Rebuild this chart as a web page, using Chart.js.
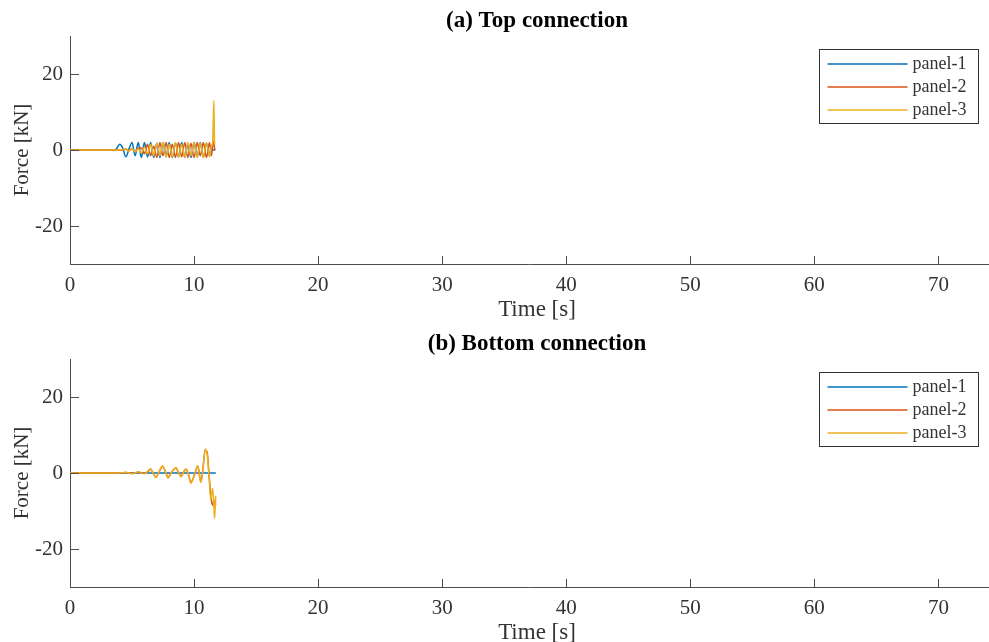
<!DOCTYPE html>
<html>
<head>
<meta charset="utf-8">
<script src="https://cdn.jsdelivr.net/npm/chart.js@4.4.0/dist/chart.umd.min.js"></script>
<style>
body { margin: 0; background: #fff; overflow: hidden; }
canvas { display: block; }
</style>
</head>
<body>
<canvas id="chartTop" width="989" height="323"></canvas>
<canvas id="chartBottom" width="989" height="323"></canvas>
<script>
const seriesNames = ["panel-1", "panel-2", "panel-3"];
const seriesColors = ["#0072BD", "#D95319", "#EDB120"];
const xTicks = [0, 10, 20, 30, 40, 50, 60, 70];
const yTicks = [-20, 0, 20];

// (a) top connection
const topTime = [0, 3.5, 3.75, 4, 4.25, 4.5, 4.75, 5, 5.25, 5.5, 5.75, 6, 6.25, 6.5, 6.75, 7, 7.25, 7.5, 7.75, 8,
    8.25, 8.5, 8.75, 9, 9.25, 9.5, 9.75, 10, 10.25, 10.5, 10.75, 11, 11.25, 11.4, 11.5, 11.55, 11.6, 11.65, 11.7];
const topPanel1 = [0, 0, 0.3, 1.5, 0.5, -1.8, 0.2, 2, -1.5, 2, -2, 2, -1.8, 2, -2, 1.8, -2, 2, -1.5, 2,
    -2, 1.9, -1.8, 2, -2, 1.5, -2, 2, -1.8, 2, -2, 1.8, -1.5, 1, 0, 0, 0, 0, 0];
const topPanel2 = [0, 0, 0, 0, 0, 0.2, -0.2, 0.3, -0.3, 0.5, 0.5, -1, 1.5, -1.5, 1, -2, 2, -1.5, 2, -2,
    1.5, -2, 2, -1.8, 2, -2, 1.8, -2, 2, -1.5, 2, -2, 2, -1.5, 1.5, 2.5, 2, 0.5, 0];
const topPanel3 = [0, 0, 0, 0, 0.1, 0.3, -0.3, 0.4, -0.4, 0.3, -0.8, 0.8, -1, 1.5, -1.5, 1.8, -1.5, 2, -2, 1.5,
    -1.8, 2, -2, 1.5, -2, 2, -1.5, 2, -2, 1.8, -2, 2, -1.8, 1, 2, 8, 13, 2, 1.5];

// (b) bottom connection
const botTime = [0, 4, 4.5, 5, 5.5, 6, 6.25, 6.5, 6.7, 6.9, 7.2, 7.45, 7.7, 7.9, 8.2, 8.55, 8.75, 8.95, 9.15, 9.35,
    9.55, 9.75, 10.05, 10.3, 10.55, 10.7, 10.9, 11.05, 11.2, 11.35, 11.5, 11.6, 11.65, 11.75];
const botPanel1 = [0, 0, 0, 0, 0, 0, 0, 0, 0, 0, 0, 0, 0, 0, 0, 0, 0, 0, 0, 0,
    0, 0, 0, 0, 0, 0, 0, 0, 0, 0, 0, 0, 0, 0];
const botPanel2 = [0, 0, 0.1, -0.1, 0.2, -0.1, 0.3, 1, 0, -1.1, 0.4, 1.8, 0.3, -1.2, 0.3, 1.3, 0.1, -0.9, 0.2, 1,
    -0.4, -2.5, -0.3, 1.8, -2.3, 0.6, 6, 5.5, 0, -6, -8.5, -7, -9, -8];
const botPanel3 = [0, 0, 0.2, -0.2, 0.3, -0.2, 0.4, 1.1, 0, -1.2, 0.5, 1.9, 0.3, -1.3, 0.3, 1.4, 0.2, -1, 0.2, 1.1,
    -0.5, -2.7, -0.3, 1.9, -2.5, 0.5, 6.3, 5, -0.5, -7, -4, -9, -12, -6];

const serif = "'Liberation Serif', 'DejaVu Serif', serif";
const textColor = "#333333";
const axisColor = "#4d4d4d";

// inward ticks, titles and legend box inside the axes
const axisMarks = {
    id: "axisMarks",
    afterDraw(chart) {
        const { ctx, chartArea, scales } = chart;
        const opts = chart.options.plugins.axisMarks;
        ctx.save();
        ctx.strokeStyle = axisColor;
        ctx.lineWidth = 1;
        ctx.beginPath();
        scales.x.ticks.forEach((t) => {
            const px = Math.round(scales.x.getPixelForValue(t.value)) + 0.5;
            ctx.moveTo(px, chartArea.bottom);
            ctx.lineTo(px, chartArea.bottom - 8);
        });
        scales.y.ticks.forEach((t) => {
            const py = Math.round(scales.y.getPixelForValue(t.value)) + 0.5;
            ctx.moveTo(chartArea.left, py);
            ctx.lineTo(chartArea.left + 9, py);
        });
        ctx.stroke();

        // titles, centred a little right of the axes centre as in the figure
        const cx = (chartArea.left + chartArea.right) / 2 + 8;
        ctx.textAlign = "center";
        ctx.textBaseline = "alphabetic";
        ctx.fillStyle = "#000";
        ctx.font = "bold 23px " + serif;
        ctx.fillText(opts.title, cx, 27);
        ctx.fillStyle = textColor;
        ctx.font = "23px " + serif;
        ctx.fillText(opts.xTitle, cx, 316);

        const bx = 819.5;
        const by = chartArea.top + 13.5;
        ctx.fillStyle = "#fff";
        ctx.fillRect(bx, by, 159, 74);
        ctx.strokeStyle = "#333";
        ctx.strokeRect(bx, by, 159, 74);
        ctx.font = "18px " + serif;
        ctx.textBaseline = "middle";
        ctx.textAlign = "left";
        chart.data.datasets.forEach((ds, i) => {
            const ry = by + 14.5 + i * 23;
            ctx.strokeStyle = ds.borderColor;
            ctx.lineWidth = 1.5;
            ctx.beginPath();
            ctx.moveTo(bx + 8, ry);
            ctx.lineTo(bx + 88, ry);
            ctx.stroke();
            ctx.fillStyle = textColor;
            ctx.fillText(ds.label, bx + 93, ry);
        });
        ctx.restore();
    }
};

function makeData(time, values) {
    return time.map((t, i) => ({ x: t, y: values[i] }));
}

function makeChart(id, title, time, p1, p2, p3) {
    const series = [p1, p2, p3];
    const datasets = series.map((vals, i) => ({
        label: seriesNames[i],
        data: makeData(time, vals),
        borderColor: seriesColors[i],
        borderWidth: 1.5,
        pointRadius: 0,
        cubicInterpolationMode: "monotone",
        order: 3 - i
    }));
    return new Chart(document.getElementById(id), {
        type: "line",
        data: { datasets },
        plugins: [axisMarks],
        options: {
            responsive: false,
            animation: false,
            devicePixelRatio: 1,
            layout: { padding: { left: 0, right: 1, top: 36, bottom: 0 } },
            plugins: {
                legend: { display: false },
                tooltip: { enabled: false },
                title: { display: false },
                axisMarks: { title: title, xTitle: "Time [s]" }
            },
            scales: {
                x: {
                    type: "linear",
                    min: 0,
                    max: 74,
                    afterBuildTicks: (s) => { s.ticks = xTicks.map((v) => ({ value: v })); },
                    afterFit: (s) => { s.height = 59; },
                    grid: { display: true, drawOnChartArea: false, drawTicks: false },
                    border: { display: true, color: axisColor, width: 1 },
                    ticks: { color: textColor, padding: 8.5, maxRotation: 0, font: { family: serif, size: 21 } }
                },
                y: {
                    type: "linear",
                    min: -30,
                    max: 30,
                    afterBuildTicks: (s) => { s.ticks = yTicks.map((v) => ({ value: v })); },
                    afterFit: (s) => { s.width = 70; },
                    grid: { display: true, drawOnChartArea: false, drawTicks: false },
                    border: { display: true, color: axisColor, width: 1 },
                    ticks: { color: textColor, padding: 7, font: { family: serif, size: 21 } },
                    title: {
                        display: true,
                        text: "Force [kN]",
                        color: textColor,
                        font: { family: serif, size: 21, lineHeight: 1.2 },
                        padding: { top: 10, bottom: 0 }
                    }
                }
            }
        }
    });
}

makeChart("chartTop", "(a) Top connection", topTime, topPanel1, topPanel2, topPanel3);
makeChart("chartBottom", "(b) Bottom connection", botTime, botPanel1, botPanel2, botPanel3);
</script>
</body>
</html>
